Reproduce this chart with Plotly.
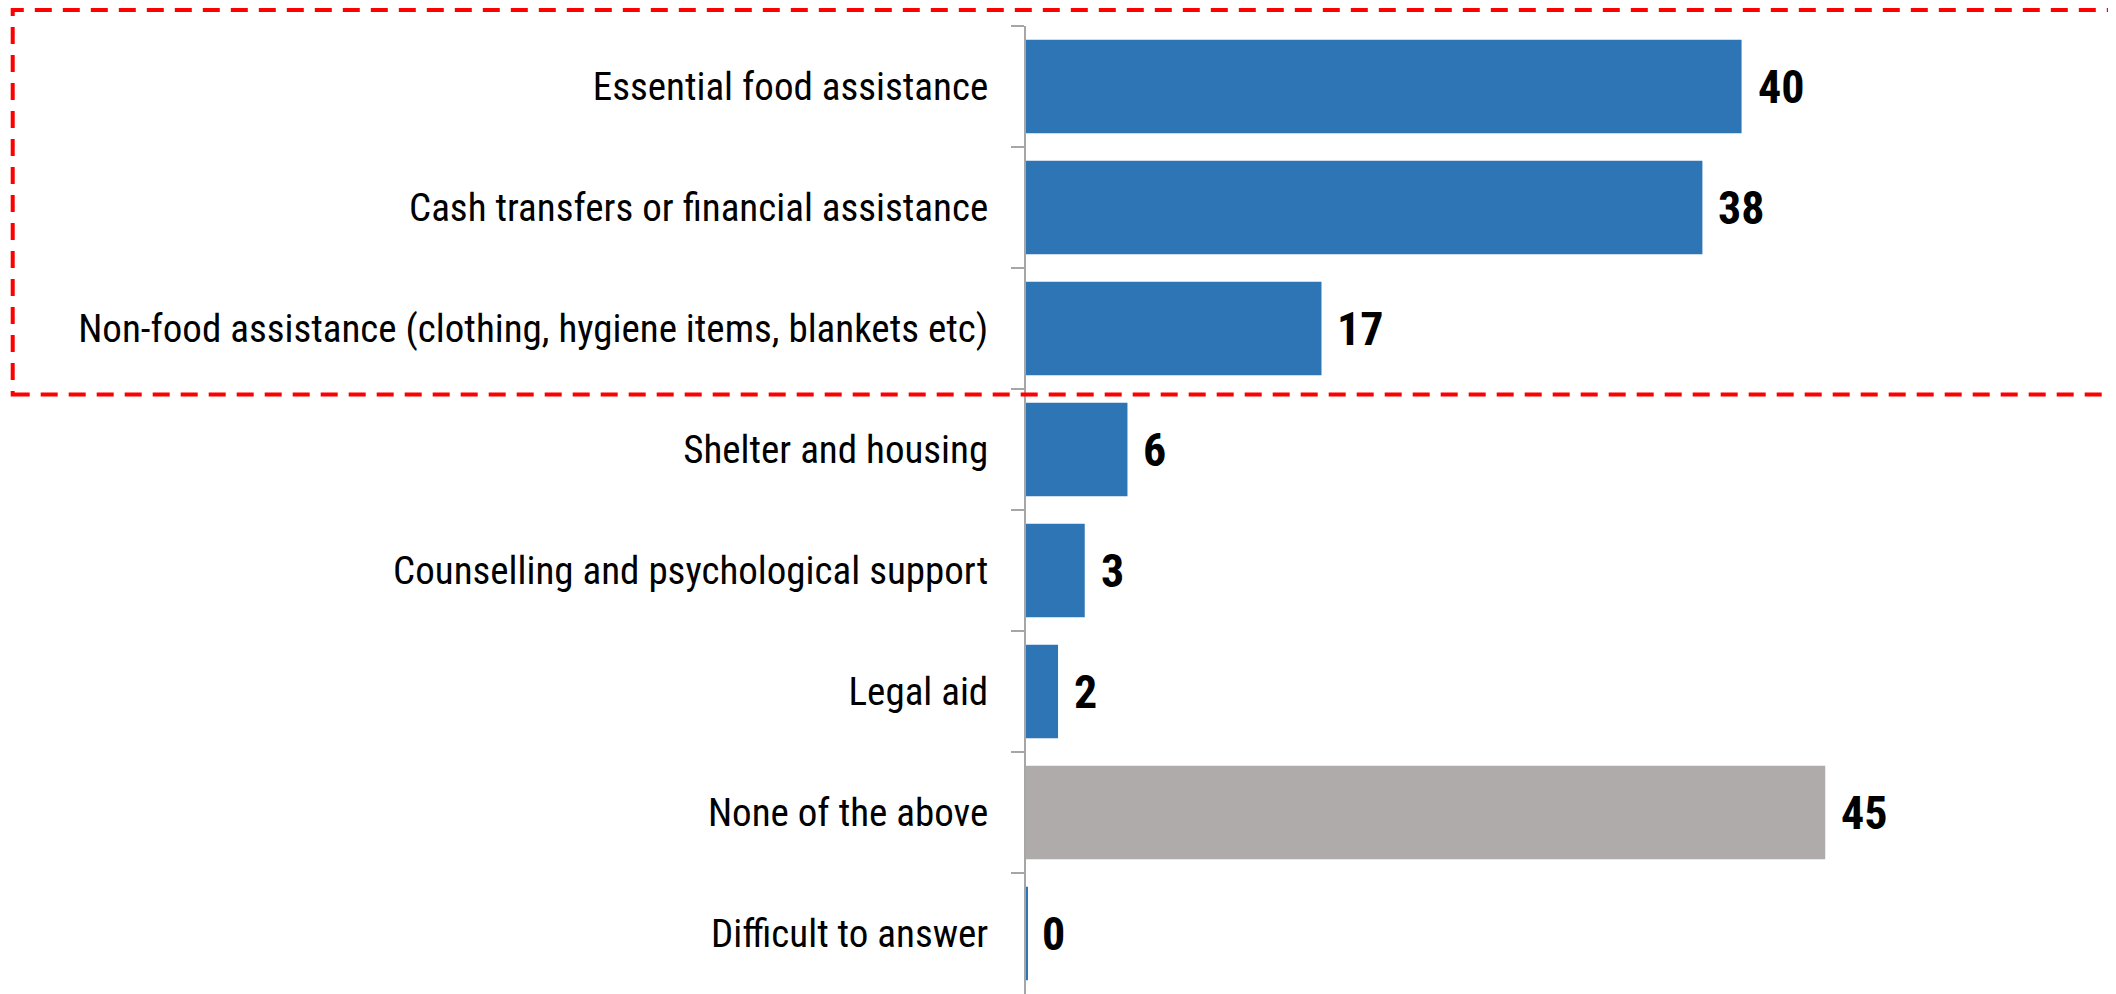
import plotly.graph_objects as go

categories = [
    "Essential food assistance",
    "Cash transfers or financial assistance",
    "Non-food assistance (clothing, hygiene items, blankets etc)",
    "Shelter and housing",
    "Counselling and psychological support",
    "Legal aid",
    "None of the above",
    "Difficult to answer",
]
# bar lengths (labels show the rounded values)
values = [40.2, 38.0, 16.6, 5.7, 3.3, 1.8, 44.9, 0.0]
labels = [str(int(round(v))) for v in values]
bar_colors = ["#2E75B6"] * 6 + ["#AFABAB", "#2E75B6"]

# the html page adds an 8px body margin, so the figure is drawn 8px smaller
W, H = 2108, 986
L_MARGIN, R_MARGIN, T_MARGIN, B_MARGIN = 1018, 200, 18, 0
X_MAX = 50

NARROW = "Liberation Sans Narrow, Arial Narrow, Roboto Condensed, sans-serif"

# a zero-valued bar is drawn as a hairline, as in the reference
display_vals = [max(v, 0.1) for v in values]

fig = go.Figure()
fig.add_trace(go.Bar(
    x=display_vals,
    y=categories,
    orientation="h",
    marker=dict(color=bar_colors, line=dict(width=0)),
    hoverinfo="skip",
))

for cat, v, lab in zip(categories, values, labels):
    fig.add_annotation(
        x=v, y=cat, xref="x", yref="y",
        text=f"<b>{lab}</b>", showarrow=False,
        xanchor="left", yanchor="middle", xshift=14,
        font=dict(family=NARROW, size=46, color="black"),
    )

plot_w = W - L_MARGIN - R_MARGIN
plot_h = H - T_MARGIN - B_MARGIN
# dashed highlight box around the first three categories (paper coords, not clipped)
fig.add_shape(
    type="rect", xref="paper", yref="paper",
    x0=(4.7 - L_MARGIN) / plot_w, x1=(W + 20 - L_MARGIN) / plot_w,
    y0=(H - B_MARGIN - 386.5) / plot_h, y1=(H - B_MARGIN - 2) / plot_h,
    line=dict(color="#FF0000", width=4, dash="17px,11px"),
    fillcolor="rgba(0,0,0,0)",
    layer="above",
)

fig.update_layout(
    width=W, height=H,
    margin=dict(l=L_MARGIN, r=R_MARGIN, t=T_MARGIN, b=B_MARGIN, autoexpand=False),
    paper_bgcolor="white", plot_bgcolor="white",
    bargap=0.228,
    showlegend=False,
    xaxis=dict(range=[0, X_MAX], visible=False, fixedrange=True),
    yaxis=dict(
        range=[len(categories) - 0.5, -0.5],
        autorange=False,
        type="category",
        showline=True, linecolor="#A6A6A6", linewidth=2,
        ticks="outside", tickson="boundaries", ticklen=13, tickwidth=2, tickcolor="#A6A6A6",
        showgrid=False, zeroline=False,
        tickfont=dict(family=NARROW, size=39, color="black"),
        ticklabelstandoff=28,
    ),
)

fig.write_html("out.html")
